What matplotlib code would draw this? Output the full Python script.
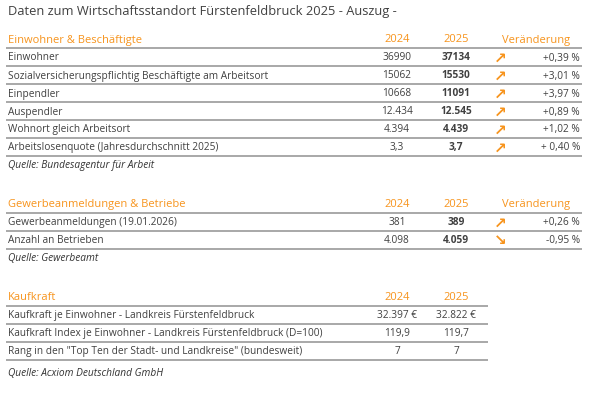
import matplotlib.pyplot as plt

plt.rcParams['font.family'] = ['Open Sans', 'DejaVu Sans']

ORANGE = '#f7941d'
TEXT = '#404040'
RULE = '#a8a8a8'

title = 'Daten zum Wirtschaftsstandort Fürstenfeldbruck 2025 - Auszug -'
years = ['2024', '2025']

# Einwohner & Beschäftigte
sec1_title = 'Einwohner & Beschäftigte'
sec1_labels = ['Einwohner',
               'Sozialversicherungspflichtig Beschäftigte am Arbeitsort',
               'Einpendler', 'Auspendler', 'Wohnort gleich Arbeitsort',
               'Arbeitslosenquote (Jahresdurchschnitt 2025)']
sec1_2024 = ['36990', '15062', '10668', '12.434', '4.394', '3,3']
sec1_2025 = ['37134', '15530', '11091', '12.545', '4.439', '3,7']
sec1_change = ['+0,39 %', '+3,01 %', '+3,97 %', '+0,89 %', '+1,02 %', '+ 0,40 %']
sec1_dir = ['up', 'up', 'up', 'up', 'up', 'up']
sec1_source = 'Quelle: Bundesagentur für Arbeit'

# Gewerbeanmeldungen & Betriebe
sec2_title = 'Gewerbeanmeldungen & Betriebe'
sec2_labels = ['Gewerbeanmeldungen (19.01.2026)', 'Anzahl an Betrieben']
sec2_2024 = ['381', '4.098']
sec2_2025 = ['389', '4.059']
sec2_change = ['+0,26 %', '-0,95 %']
sec2_dir = ['up', 'down']
sec2_source = 'Quelle: Gewerbeamt'

# Kaufkraft
sec3_title = 'Kaufkraft'
sec3_labels = ['Kaufkraft je Einwohner - Landkreis Fürstenfeldbruck',
               'Kaufkraft Index je Einwohner - Landkreis Fürstenfeldbruck (D=100)',
               'Rang in den "Top Ten der Stadt- und Landkreise" (bundesweit)']
sec3_2024 = ['32.397 €', '119,9', '7']
sec3_2025 = ['32.822 €', '119,7', '7']
sec3_source = 'Quelle: Acxiom Deutschland GmbH'

arrows = {'up': '↗', 'down': '↘'}

fig = plt.figure(figsize=(6, 4.02), dpi=100)
ax = fig.add_axes([0, 0, 1, 1])
ax.set_xlim(0, 600)
ax.set_ylim(402, 0)
ax.axis('off')

FS = 7.3
HS = 8.0
x_lab, x24, x25, x_arr, x_pct, x_ver = 8, 397, 456, 500, 580, 536


def section(top, name, labels, v24, v25, change=None, dirs=None, source='',
            right=582, src_gap=8.5, bold25=True):
    ax.text(x_lab, top, name, color=ORANGE, fontsize=HS, va='center')
    ax.text(x24, top, years[0], color=ORANGE, fontsize=HS, va='center', ha='center')
    ax.text(x25, top, years[1], color=ORANGE, fontsize=HS, va='center', ha='center')
    if change is not None:
        ax.text(x_ver, top, 'Veränderung', color=ORANGE, fontsize=HS,
                va='center', ha='center')
    y_rule = top + 9
    ax.hlines(y_rule, 6, right, color=RULE, lw=1.4)
    for i, lab in enumerate(labels):
        y = y_rule + 9 + i * 18
        ax.text(x_lab, y, lab, color=TEXT, fontsize=FS, va='center')
        ax.text(x24, y, v24[i], color=TEXT, fontsize=FS, va='center', ha='center')
        ax.text(x25, y, v25[i], color=TEXT, fontsize=FS, va='center', ha='center',
                fontweight='bold' if bold25 else 'normal')
        if change is not None:
            ax.text(x_arr, y, arrows[dirs[i]], color=ORANGE, fontsize=11,
                    va='center', ha='center', fontweight='bold',
                    family=['DejaVu Sans'])
            ax.text(x_pct, y, change[i], color=TEXT, fontsize=FS, va='center', ha='right')
        ax.hlines(y + 9, 6, right, color=RULE, lw=1.4)
    y_src = y_rule + len(labels) * 18 + src_gap
    ax.text(x_lab, y_src, source, color='#333333', fontsize=FS, va='center',
            style='italic')


ax.text(x_lab, 12, title, color=TEXT, fontsize=9.3, va='center')
section(40, sec1_title, sec1_labels, sec1_2024, sec1_2025, sec1_change, sec1_dir, sec1_source)
section(205, sec2_title, sec2_labels, sec2_2024, sec2_2025, sec2_change, sec2_dir, sec2_source)
section(297.5, sec3_title, sec3_labels, sec3_2024, sec3_2025, source=sec3_source,
        right=488, src_gap=13, bold25=False)

fig.savefig('out.png', dpi=100, facecolor='white')
